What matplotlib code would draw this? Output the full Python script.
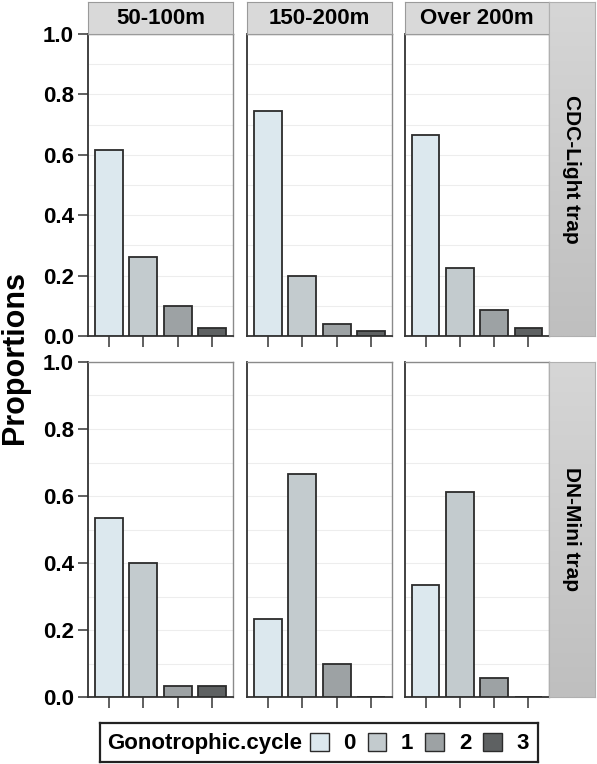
import matplotlib
matplotlib.use("Agg")
import matplotlib.pyplot as plt
import numpy as np
from matplotlib.patches import Patch

plt.rcParams["font.family"] = ["Liberation Sans", "DejaVu Sans"]

# proportions
cycles = ["0", "1", "2", "3"]
distances = ["50-100m", "150-200m", "Over 200m"]
traps = ["CDC-Light trap", "DN-Mini trap"]

cdc_50_100 = [0.615, 0.26, 0.10, 0.025]
cdc_150_200 = [0.745, 0.20, 0.04, 0.018]
cdc_over_200 = [0.665, 0.225, 0.085, 0.025]
dn_50_100 = [0.533, 0.40, 0.033, 0.033]
dn_150_200 = [0.233, 0.667, 0.10, 0.0]
dn_over_200 = [0.333, 0.611, 0.056, 0.0]

values = [[cdc_50_100, cdc_150_200, cdc_over_200],
          [dn_50_100, dn_150_200, dn_over_200]]

colors = ["#dce8ee", "#c3cbce", "#9da2a4", "#5e6162"]
edge = "#2b2b2b"

W, H = 597, 764
fig = plt.figure(figsize=(W / 100, H / 100), dpi=100)
fig.patch.set_facecolor("white")


def px_axes(x0, y0, x1, y1):
    # pixel box (top-left origin) -> figure axes
    return fig.add_axes([x0 / W, (H - y1) / H, (x1 - x0) / W, (y1 - y0) / H])


col_x = [(88, 233), (247, 392), (405, 549)]
row_y = [(34, 336), (362, 697)]
xpos = np.arange(len(cycles))
strip_cmap = matplotlib.colors.LinearSegmentedColormap.from_list(
    "strip", ["#d6d6d6", "#bfbfbf"])

for r, (y0, y1) in enumerate(row_y):
    for c, (x0, x1) in enumerate(col_x):
        ax = px_axes(x0, y0, x1, y1)
        ax.bar(xpos, values[r][c], width=0.8, color=colors,
               edgecolor=edge, linewidth=1.3, zorder=3)
        ax.set_xlim(-0.6, 3.6)
        ax.set_ylim(0, 1.0)
        ax.set_yticks(np.arange(0, 1.01, 0.2))
        ax.set_yticks(np.arange(0.1, 1.0, 0.2), minor=True)
        ax.grid(True, which="both", axis="y", color="#ededed", lw=0.8, zorder=0)
        ax.set_xticks(xpos)
        ax.set_xticklabels([])
        ax.tick_params(axis="x", length=8, width=1.2, color="#444", direction="out")
        ax.tick_params(axis="y", which="minor", length=0)
        if c == 0:
            ax.set_yticklabels([f"{v:.1f}" for v in np.arange(0, 1.01, 0.2)],
                               fontsize=16, fontweight="bold")
            ax.tick_params(axis="y", which="major", length=7, width=1.2,
                           color="#444", pad=3)
        else:
            ax.tick_params(axis="y", which="major", length=0, labelleft=False)
        for s in ["left", "bottom"]:
            ax.spines[s].set_color("#333")
            ax.spines[s].set_linewidth(1.3)
        for s in ["right", "top"]:
            ax.spines[s].set_color("#8a8a8a")
            ax.spines[s].set_linewidth(1.0)

        # top strips
        if r == 0:
            sx = px_axes(x0, 2, x1, 34)
            sx.set_facecolor("#d9d9d9")
            sx.set_xticks([])
            sx.set_yticks([])
            for s in sx.spines.values():
                s.set_color("#9a9a9a")
            sx.text(0.5, 0.47, distances[c], ha="center", va="center",
                    fontsize=16, fontweight="bold", transform=sx.transAxes)

    # right strip with a soft vertical gradient
    sy0 = 2 if r == 0 else y0
    rx = px_axes(549, sy0, 595, y1)
    grad = np.linspace(0, 1, 256).reshape(-1, 1)
    rx.imshow(grad, cmap=strip_cmap, aspect="auto",
              extent=[0, 1, 0, 1], origin="upper")
    rx.set_xlim(0, 1)
    rx.set_ylim(0, 1)
    rx.set_xticks([])
    rx.set_yticks([])
    for s in rx.spines.values():
        s.set_color("#b0b0b0")
        s.set_linewidth(0.8)
    rx.text(0.5, 0.5, traps[r], rotation=-90, ha="center", va="center",
            fontsize=15, fontweight="bold", transform=rx.transAxes)

fig.text(15 / W, 1 - 357 / H, "Proportions", rotation=90, ha="center",
         va="center", fontsize=22, fontweight="bold")

# legend box along the bottom
lax = px_axes(100, 723, 538, 762)
lax.set_xticks([])
lax.set_yticks([])
for s in lax.spines.values():
    s.set_color("#222")
    s.set_linewidth(1.6)
lax.text(7 / 438, 0.47, "Gonotrophic.cycle", ha="left", va="center",
         fontsize=16, fontweight="bold", transform=lax.transAxes)
handles = [Patch(facecolor=col, edgecolor=edge, linewidth=1.0) for col in colors]
lax.legend(handles, cycles, ncol=4, loc="center right",
           bbox_to_anchor=(1.0, 0.47), frameon=False,
           prop={"size": 16, "weight": "bold"},
           handlelength=0.85, handleheight=0.85, handletextpad=0.65,
           columnspacing=0.55, borderpad=0.2, borderaxespad=0.2)

fig.savefig("out.png", dpi=100)
